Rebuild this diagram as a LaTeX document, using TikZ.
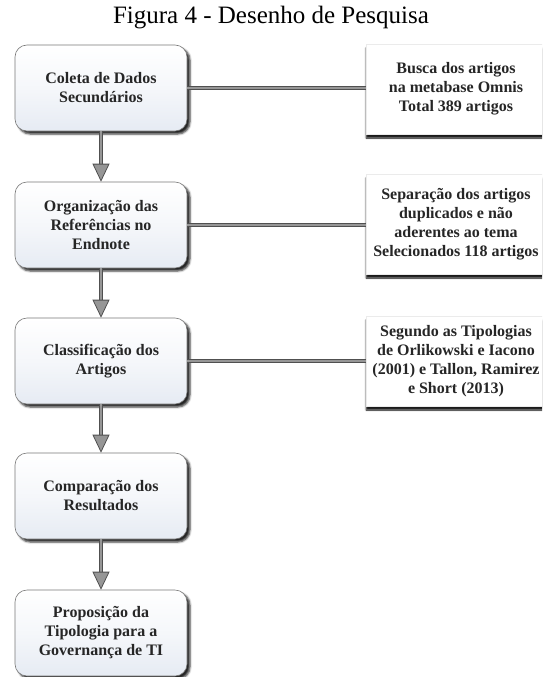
\documentclass[tikz,border=0pt]{standalone}
\usepackage{fontspec}
\setmainfont{Liberation Serif}
\usetikzlibrary{arrows.meta,shadows.blur}
\definecolor{boxedge}{RGB}{120,120,120}
\definecolor{boxshade}{RGB}{230,235,243}
\definecolor{linkdark}{RGB}{80,80,80}
\definecolor{linklight}{RGB}{150,150,150}
\begin{document}
\begin{tikzpicture}[x=1pt,y=-1pt,
  stepbox/.style={draw=boxedge, line width=0.6pt, rounded corners=12pt,
    minimum width=172pt, minimum height=86pt, inner sep=2pt,
    top color=white, bottom color=boxshade, middle color=white!60!boxshade,
    align=center, text=black!85, font=\bfseries\fontsize{16}{19}\selectfont,
    blur shadow={shadow xshift=3pt, shadow yshift=-3pt, shadow opacity=85,
      shadow blur radius=2pt}},
  notebox/.style={draw=black!8, line width=0.4pt, fill=white,
    minimum width=180pt, inner sep=2pt,
    align=center, text=black!85, font=\bfseries\fontsize{16}{19}\selectfont,
    blur shadow={shadow xshift=0pt, shadow yshift=-4pt, shadow opacity=90,
      shadow blur radius=1.5pt}},
  flow/.style={draw=linklight, line width=1.6pt,
    preaction={draw=linkdark, line width=4pt, arrows=-, shorten >=14pt},
    -{Triangle[width=17pt,length=18pt,line width=0.8pt,color=linkdark,fill=linklight]}},
  link/.style={draw=linkdark, line width=4pt,
    postaction={draw=linklight, line width=1.6pt}}
]
\useasboundingbox (0,0) rectangle (542,677);
\clip (0,0) rectangle (542,677);

% title
\node[font=\fontsize{25}{30}\selectfont] (title) at (271,18) {Figura 4 - Desenho de Pesquisa};

% main steps
\node[stepbox] (s1) at (101,88)  {Coleta de Dados\\Secundários};
\node[stepbox] (s2) at (101,225) {Organização das\\Referências no\\Endnote};
\node[stepbox] (s3) at (101,361) {Classificação dos\\Artigos};
\node[stepbox] (s4) at (101,496) {Comparação dos\\Resultados};
\node[stepbox] (s5) at (101,633) {Proposição da\\Tipologia para a\\Governança de TI};

% notes
\node[notebox, minimum height=90pt]  (n1) at (456,89)  {Busca dos artigos\\na metabase Omnis\\Total 389 artigos};
\node[notebox, minimum height=100pt] (n2) at (456,224) {Separação dos artigos\\duplicados e não\\aderentes ao tema\\Selecionados 118 artigos};
\node[notebox, minimum height=90pt]  (n3) at (456,361) {Segundo as Tipologias\\de Orlikowski e Iacono\\(2001) e Tallon, Ramirez\\e Short (2013)};

% connectors to the notes
\draw[link] (s1.east) -- (n1.west |- s1.east);
\draw[link] (s2.east) -- (n2.west |- s2.east);
\draw[link] (s3.east) -- (n3.west |- s3.east);

% flow arrows
\draw[flow] (s1) -- (s2);
\draw[flow] (s2) -- (s3);
\draw[flow] (s3) -- (s4);
\draw[flow] (s4) -- (s5);
\end{tikzpicture}
\end{document}
